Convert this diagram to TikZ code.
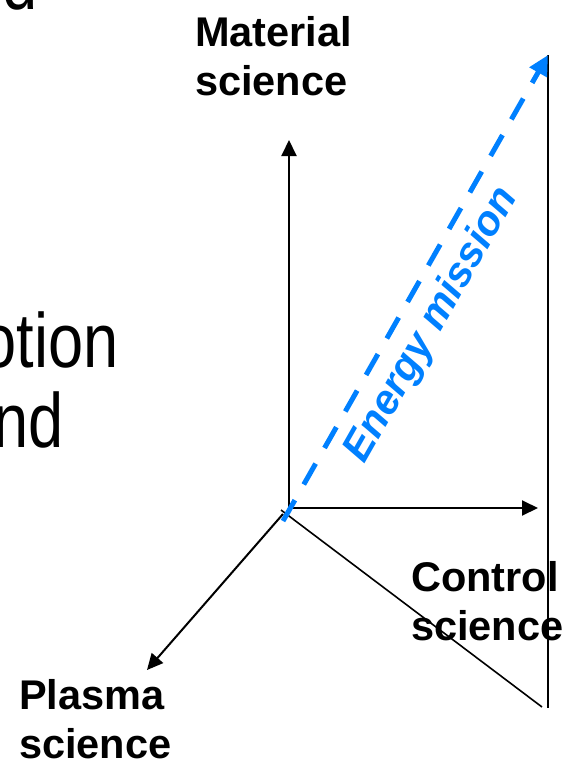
\documentclass[tikz,border=0pt]{standalone}
\usepackage{fontspec}
\setmainfont{Liberation Sans}
\newfontfamily\narrowfont[FakeStretch=0.82]{Liberation Sans}
\usetikzlibrary{arrows.meta}
\definecolor{energyblue}{RGB}{0,128,255}
\tikzset{
  axis/.style={line width=2pt, -{Triangle[length=16pt,width=15pt]}},
  plainline/.style={line width=1.6pt},
  label/.style={inner sep=0pt, align=left, anchor=base west, font=\fontsize{41.5}{49}\selectfont\bfseries},
  frag/.style={inner sep=0pt, anchor=base east, font=\narrowfont\fontsize{77}{80}\selectfont},
  mission/.style={energyblue, line width=5pt, dash pattern=on 24pt off 18pt, -{Triangle[length=20pt,width=19pt]}}
}
\begin{document}
\begin{tikzpicture}[x=1pt,y=-1pt]
\useasboundingbox (0,0) rectangle (570,761);
\clip (0,0) rectangle (570,761);
% text fragments at left
\node[frag] (fragd) at (38,9) {d};
\node[frag] (fragotion) at (119,367) {otion};
\node[frag] (fragnd) at (64,447) {nd};
% coordinates
\coordinate (O) at (289,508);
\coordinate (matTip) at (289,140);
\coordinate (ctlTip) at (538,508);
\coordinate (plaStart) at (283,514);
\coordinate (plaTip) at (147,670);
\coordinate (diagStart) at (281,510);
\coordinate (diagEnd) at (542,707);
\coordinate (rTop) at (548,55);
\coordinate (rBot) at (548,708);
\coordinate (eStart) at (283,521);
% labels (base anchor = baseline of the last line)
\node[label] (mat) at (195,95) {Material\\science};
\node[label] (ctl) at (411,640) {Control\\science};
\node[label] (pla) at (19,758) {Plasma\\science};
% lines
\draw[plainline] (diagStart) -- (diagEnd);
\draw[plainline] (rTop) -- (rBot);
\draw[axis] (O) -- (matTip);
\draw[axis] (O) -- (ctlTip);
\draw[axis] (plaStart) -- (plaTip);
\draw[mission] (eStart) -- (rTop);
\node[energyblue, inner sep=0pt, rotate=60.3, font=\fontsize{41.5}{49}\selectfont\bfseries\itshape] (mission) at (432,325) {Energy mission};
\end{tikzpicture}
\end{document}
